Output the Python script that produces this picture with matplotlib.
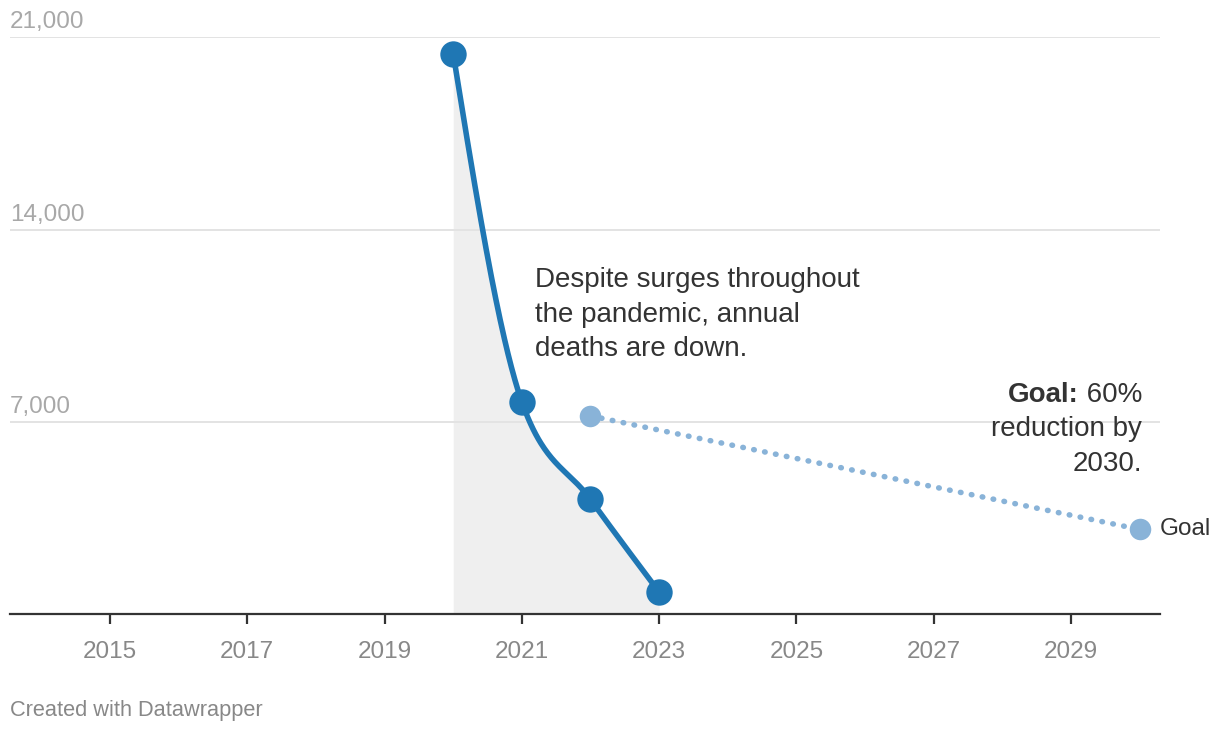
import numpy as np
import matplotlib
matplotlib.use("Agg")
import matplotlib.pyplot as plt
import matplotlib.transforms as mtransforms

plt.rcParams['font.family'] = ['Liberation Sans', 'DejaVu Sans']

# data
years = [2020, 2021, 2022, 2023]
deaths = [20400, 7730, 4180, 810]
goal_years = [2022, 2030]
goal_vals = [7220, 3090]
x_ticks = [2015, 2017, 2019, 2021, 2023, 2025, 2027, 2029]
y_ticks = [7000, 14000, 21000]
y_labels = ["7,000", "14,000", "21,000"]

blue = '#1f77b4'
light = '#89b3d8'


def monotone_x(xs, ys, n=80):
    # same idea as d3.curveMonotoneX
    xs = np.asarray(xs, float)
    ys = np.asarray(ys, float)
    h = np.diff(xs)
    s = np.diff(ys) / h
    t = np.zeros(len(xs))
    sg = lambda v: -1.0 if v < 0 else 1.0
    for i in range(1, len(xs) - 1):
        p = (s[i - 1] * h[i] + s[i] * h[i - 1]) / (h[i - 1] + h[i])
        t[i] = (sg(s[i - 1]) + sg(s[i])) * min(abs(s[i - 1]), abs(s[i]), 0.5 * abs(p))
    t[0] = (3 * s[0] - t[1]) / 2
    t[-1] = (3 * s[-1] - t[-2]) / 2
    ox, oy = [], []
    for i in range(len(xs) - 1):
        u = np.linspace(0, 1, n)
        h00 = 2 * u**3 - 3 * u**2 + 1
        h10 = u**3 - 2 * u**2 + u
        h01 = -2 * u**3 + 3 * u**2
        h11 = u**3 - u**2
        ox.append(xs[i] + u * h[i])
        oy.append(h00 * ys[i] + h10 * h[i] * t[i] + h01 * ys[i + 1] + h11 * h[i] * t[i + 1])
    return np.concatenate(ox), np.concatenate(oy)


fig = plt.figure(figsize=(12.2, 7.32), dpi=100)
ax = fig.add_axes([10 / 1220, (732 - 614.3) / 732, 1150 / 1220, 577 / 732])
ax.set_xlim(2013.543, 2030.297)
ax.set_ylim(0, 21000)

for v in y_ticks:
    ax.axhline(v, color='#e3e3e3', lw=1.4, zorder=1)

sx, sy = monotone_x(years, deaths)
ax.fill_between(sx, sy, 0, color='#efefef', lw=0, zorder=0)
ax.plot(sx, sy, color=blue, lw=4, solid_capstyle='round', zorder=3)
ax.plot(years, deaths, 'o', color=blue, ms=19, mec='none', zorder=4, clip_on=False)

ax.plot(goal_years, goal_vals, color=light, lw=4, linestyle=(0, (0.1, 1.9)),
        dash_capstyle='round', zorder=2)
ax.plot(goal_years, goal_vals, 'o', color=light, ms=15.5, mec='none', zorder=4, clip_on=False)

for sp in ['top', 'right', 'left']:
    ax.spines[sp].set_visible(False)
ax.spines['bottom'].set_color('#333333')
ax.spines['bottom'].set_linewidth(1.6)
ax.set_yticks([])
ax.set_xticks(x_ticks)
ax.set_xticklabels([str(x) for x in x_ticks])
ax.tick_params(axis='x', length=7, width=1.6, color='#333333', pad=12,
               labelsize=17.5, labelcolor='#888888')

trans = mtransforms.blended_transform_factory(ax.transAxes, ax.transData)
for v, lab in zip(y_ticks, y_labels):
    ax.annotate(lab, xy=(0, v), xycoords=trans, xytext=(0, 6.5), textcoords='offset points',
                ha='left', va='baseline', fontsize=17.5, color='#a8a8a8')

note = ["Despite surges throughout", "the pandemic, annual", "deaths are down."]
for i, line in enumerate(note):
    ax.text(2021.19, 11894 - i * 1254, line, ha='left', va='baseline',
            fontsize=20, color='#333333')

goal_note = [" 60%", "reduction by", "2030."]
goal_texts = []
for i, line in enumerate(goal_note):
    goal_texts.append(ax.text(2030.035, 7726 - i * 1254, line, ha='right', va='baseline',
                              fontsize=20, color='#333333'))

# bold "Goal:" just left of " 60%"
renderer = fig.canvas.get_renderer()
bb = goal_texts[0].get_window_extent(renderer)
x_left = ax.transData.inverted().transform((bb.x0, 0))[0]
ax.text(x_left, 7726, "Goal:", ha='right', va='baseline', fontsize=20,
        fontweight='bold', color='#333333')

ax.annotate("Goal", xy=(goal_years[1], goal_vals[1]), xytext=(14.5, 0),
            textcoords='offset points', ha='left', va='center',
            fontsize=17.5, color='#333333', annotation_clip=False)

fig.text(10 / 1220, 1 - 716 / 732, "Created with Datawrapper", ha='left', va='baseline',
         fontsize=15.7, color='#888888')

fig.savefig('out.png', dpi=100)
